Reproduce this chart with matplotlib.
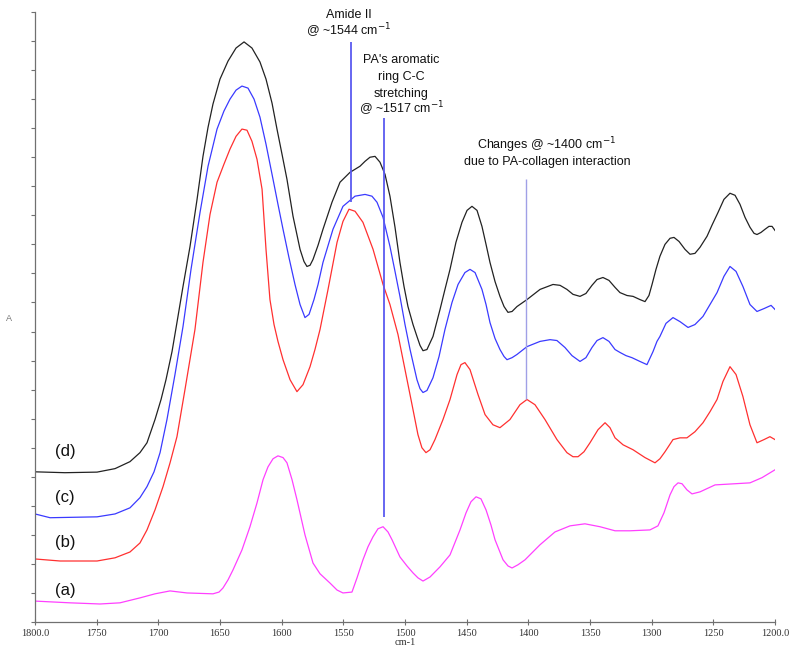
import matplotlib
matplotlib.use("Agg")
import matplotlib.pyplot as plt

# spectrum (d), black
wn_d = [1800.0, 1775.7, 1749.7, 1735.1, 1723.0, 1714.9, 1709.2, 1702.7, 1697.8, 1693.8,
        1688.9, 1684.9, 1680.0, 1674.3, 1668.6, 1663.8, 1659.7, 1655.7, 1650.0, 1643.5,
        1637.0, 1630.5, 1624.1, 1617.6, 1612.7, 1607.8, 1603.8, 1599.7, 1595.7, 1590.8,
        1585.1, 1581.9, 1579.5, 1577.0, 1574.6, 1570.5, 1566.5, 1559.2, 1552.7, 1544.6,
        1536.5, 1532.4, 1528.4, 1524.3, 1520.3, 1516.2, 1512.2, 1508.1, 1504.1, 1500.8,
        1497.6, 1493.5, 1490.3, 1487.8, 1485.4, 1482.2, 1477.3, 1471.6, 1467.6, 1463.5,
        1458.7, 1453.8, 1449.7, 1445.7, 1441.6, 1437.6, 1434.3, 1431.1, 1427.0, 1423.0,
        1419.7, 1416.5, 1413.2, 1409.2, 1401.1, 1390.5, 1380.0, 1374.3, 1368.7, 1363.8,
        1358.1, 1353.3, 1348.4, 1344.3, 1339.5, 1334.6, 1329.7, 1325.7, 1320.0, 1315.1,
        1309.5, 1305.4, 1302.2, 1299.7, 1296.5, 1293.3, 1289.2, 1285.1, 1281.9, 1277.8,
        1273.0, 1268.9, 1264.9, 1260.8, 1255.1, 1251.1, 1246.2, 1241.4, 1236.5, 1232.4,
        1228.4, 1224.3, 1220.3, 1217.0, 1214.6, 1211.4, 1208.1, 1204.9, 1202.4, 1200.0]
abs_d = [0.517, 0.514, 0.516, 0.528, 0.552, 0.583, 0.617, 0.697, 0.766, 0.834,
         0.931, 1.031, 1.155, 1.293, 1.455, 1.603, 1.703, 1.783, 1.869, 1.931,
         1.976, 1.997, 1.976, 1.928, 1.869, 1.786, 1.697, 1.610, 1.524, 1.397,
         1.283, 1.241, 1.224, 1.228, 1.248, 1.297, 1.352, 1.445, 1.514, 1.548,
         1.569, 1.586, 1.600, 1.603, 1.583, 1.541, 1.466, 1.359, 1.238, 1.155,
         1.086, 1.024, 0.983, 0.952, 0.934, 0.938, 0.983, 1.076, 1.145, 1.214,
         1.307, 1.376, 1.417, 1.431, 1.417, 1.362, 1.300, 1.238, 1.172, 1.121,
         1.086, 1.066, 1.069, 1.086, 1.110, 1.145, 1.162, 1.159, 1.145, 1.128,
         1.121, 1.131, 1.159, 1.179, 1.186, 1.176, 1.152, 1.134, 1.124, 1.121,
         1.110, 1.103, 1.124, 1.162, 1.214, 1.259, 1.300, 1.321, 1.324, 1.310,
         1.283, 1.266, 1.269, 1.290, 1.328, 1.366, 1.410, 1.455, 1.476, 1.469,
         1.438, 1.393, 1.359, 1.338, 1.334, 1.341, 1.352, 1.362, 1.362, 1.348]

# spectrum (c), blue
wn_c = [1800.0, 1787.8, 1749.7, 1735.1, 1723.0, 1714.9, 1709.2, 1703.5, 1698.6, 1693.0,
        1686.5, 1680.0, 1673.5, 1666.2, 1659.7, 1652.4, 1646.8, 1641.9, 1637.0, 1632.2,
        1627.3, 1622.4, 1617.6, 1612.7, 1607.0, 1603.0, 1598.9, 1594.1, 1589.2, 1585.1,
        1581.1, 1577.8, 1573.8, 1570.5, 1566.5, 1558.4, 1550.3, 1540.5, 1532.4, 1526.8,
        1522.7, 1517.8, 1512.2, 1508.1, 1504.1, 1500.0, 1495.9, 1490.3, 1487.8, 1485.4,
        1482.2, 1477.3, 1472.4, 1467.6, 1461.9, 1457.0, 1451.4, 1447.3, 1443.2, 1437.6,
        1434.3, 1431.1, 1427.0, 1423.0, 1419.7, 1417.3, 1413.2, 1409.2, 1401.1, 1390.5,
        1382.4, 1376.8, 1370.3, 1364.6, 1358.1, 1353.3, 1348.4, 1344.3, 1339.5, 1334.6,
        1329.7, 1325.7, 1320.8, 1316.0, 1309.5, 1303.8, 1298.9, 1295.7, 1293.3, 1288.4,
        1282.7, 1277.0, 1270.5, 1264.9, 1258.4, 1252.7, 1247.0, 1241.4, 1236.5, 1231.6,
        1226.0, 1220.3, 1214.6, 1208.9, 1203.2, 1200.0]
abs_c = [0.372, 0.359, 0.362, 0.372, 0.393, 0.428, 0.466, 0.517, 0.583, 0.697,
         0.852, 1.017, 1.214, 1.410, 1.569, 1.697, 1.759, 1.800, 1.831, 1.845,
         1.838, 1.800, 1.738, 1.645, 1.524, 1.438, 1.352, 1.255, 1.162, 1.093,
         1.048, 1.059, 1.110, 1.162, 1.238, 1.352, 1.431, 1.466, 1.472, 1.466,
         1.445, 1.393, 1.293, 1.207, 1.121, 1.024, 0.938, 0.834, 0.803, 0.790,
         0.797, 0.841, 0.914, 1.007, 1.100, 1.162, 1.203, 1.214, 1.203, 1.145,
         1.093, 1.031, 0.976, 0.938, 0.914, 0.903, 0.910, 0.921, 0.948, 0.966,
         0.972, 0.969, 0.945, 0.917, 0.897, 0.910, 0.945, 0.969, 0.979, 0.966,
         0.938, 0.928, 0.917, 0.910, 0.897, 0.886, 0.931, 0.966, 0.983, 1.028,
         1.048, 1.034, 1.014, 1.024, 1.052, 1.093, 1.134, 1.190, 1.224, 1.207,
         1.155, 1.093, 1.069, 1.079, 1.090, 1.076]

# spectrum (b), red
wn_b = [1800.0, 1779.7, 1749.7, 1735.1, 1723.0, 1714.9, 1709.2, 1702.7, 1696.2, 1690.5,
        1684.9, 1678.4, 1670.3, 1663.8, 1658.1, 1652.4, 1646.8, 1641.9, 1637.0, 1632.2,
        1628.1, 1624.1, 1620.0, 1615.9, 1612.7, 1609.5, 1606.2, 1603.0, 1598.9, 1593.2,
        1587.6, 1582.7, 1577.0, 1573.0, 1568.9, 1562.4, 1555.1, 1550.3, 1545.4, 1540.5,
        1534.1, 1525.9, 1517.8, 1512.2, 1505.7, 1500.0, 1494.3, 1489.5, 1486.3, 1483.0,
        1479.7, 1475.7, 1469.2, 1463.5, 1457.8, 1454.6, 1451.4, 1447.3, 1440.8, 1435.1,
        1428.7, 1423.0, 1414.9, 1406.8, 1401.1, 1394.6, 1386.5, 1376.8, 1368.7, 1363.8,
        1359.7, 1354.9, 1350.0, 1343.5, 1337.8, 1333.8, 1329.7, 1323.2, 1315.1, 1305.4,
        1297.3, 1293.3, 1289.2, 1282.7, 1277.0, 1271.4, 1264.9, 1258.4, 1252.7, 1247.0,
        1242.2, 1236.5, 1231.6, 1226.0, 1220.3, 1214.6, 1208.9, 1204.1, 1200.0]
abs_b = [0.217, 0.210, 0.210, 0.221, 0.241, 0.272, 0.317, 0.386, 0.466, 0.548,
         0.638, 0.800, 1.007, 1.238, 1.403, 1.514, 1.576, 1.628, 1.672, 1.697,
         1.693, 1.655, 1.593, 1.490, 1.283, 1.110, 1.024, 0.966, 0.903, 0.834,
         0.793, 0.817, 0.879, 0.938, 1.007, 1.145, 1.307, 1.379, 1.421, 1.414,
         1.376, 1.283, 1.162, 1.093, 0.990, 0.869, 0.748, 0.645, 0.600, 0.583,
         0.593, 0.628, 0.697, 0.766, 0.852, 0.886, 0.893, 0.869, 0.783, 0.714,
         0.679, 0.669, 0.697, 0.748, 0.766, 0.748, 0.697, 0.628, 0.583, 0.569,
         0.569, 0.586, 0.617, 0.662, 0.686, 0.669, 0.634, 0.610, 0.593, 0.566,
         0.548, 0.562, 0.586, 0.628, 0.634, 0.634, 0.655, 0.686, 0.724, 0.766,
         0.828, 0.879, 0.852, 0.776, 0.679, 0.617, 0.628, 0.638, 0.628]

# spectrum (a), magenta
wn_a = [1800.0, 1771.6, 1747.3, 1731.1, 1714.9, 1702.7, 1690.5, 1676.8, 1655.7, 1650.8,
        1647.6, 1643.5, 1639.5, 1632.2, 1625.7, 1620.0, 1615.1, 1611.1, 1607.0, 1603.0,
        1598.9, 1595.7, 1591.6, 1587.6, 1581.1, 1574.6, 1568.9, 1560.8, 1555.1, 1550.3,
        1543.0, 1538.9, 1534.1, 1530.0, 1526.0, 1521.9, 1517.8, 1513.8, 1510.5, 1504.1,
        1498.4, 1493.5, 1489.5, 1485.4, 1479.7, 1471.6, 1463.5, 1455.4, 1450.5, 1446.5,
        1442.4, 1438.4, 1434.3, 1430.3, 1427.0, 1420.5, 1416.5, 1413.2, 1408.4, 1402.7,
        1390.5, 1378.4, 1366.2, 1354.1, 1341.9, 1329.7, 1317.6, 1301.4, 1294.9, 1290.0,
        1285.1, 1281.9, 1278.6, 1275.4, 1271.4, 1267.3, 1260.8, 1248.6, 1232.4, 1220.3,
        1210.5, 1200.0]
abs_a = [0.072, 0.066, 0.062, 0.066, 0.083, 0.097, 0.107, 0.100, 0.097, 0.103,
         0.117, 0.145, 0.179, 0.248, 0.328, 0.410, 0.490, 0.534, 0.562, 0.572,
         0.566, 0.548, 0.490, 0.421, 0.300, 0.203, 0.166, 0.134, 0.110, 0.100,
         0.103, 0.152, 0.214, 0.259, 0.293, 0.321, 0.328, 0.310, 0.283, 0.224,
         0.193, 0.169, 0.152, 0.141, 0.155, 0.190, 0.231, 0.317, 0.376, 0.414,
         0.431, 0.424, 0.386, 0.334, 0.283, 0.214, 0.193, 0.186, 0.197, 0.214,
         0.266, 0.310, 0.331, 0.338, 0.328, 0.314, 0.314, 0.317, 0.331, 0.376,
         0.438, 0.466, 0.479, 0.476, 0.455, 0.441, 0.448, 0.472, 0.476, 0.479,
         0.497, 0.524]

curve_labels = ["(d)", "(c)", "(b)", "(a)"]
label_levels = [0.586, 0.428, 0.272, 0.110]

# annotation markers: wavenumber, top, bottom
marker_wn = [1544, 1517, 1402]
marker_top = [1.997, 1.734, 1.524]
marker_bottom = [1.445, 0.362, 0.766]

# annotation text blocks: lines, centre wavenumber, baseline of each line
amide_lines = ["Amide II", "@ ~1544 cm$^{-1}$"]
amide_wn = 1545.5
amide_base = [2.081, 2.020]
ring_lines = ["PA's aromatic", "ring C-C", "stretching", "@ ~1517 cm$^{-1}$"]
ring_wn = 1503.0
ring_base = [1.924, 1.866, 1.809, 1.750]
change_lines = ["Changes @ ~1400 cm$^{-1}$", "due to PA-collagen interaction"]
change_wn = 1385.0
change_base = [1.626, 1.575]

xticks = list(range(1800, 1199, -50))
xticklabels = ["1800.0"] + [str(v) for v in xticks[1:-1]] + ["1200.0"]

fig = plt.figure(figsize=(8.0, 6.53), dpi=100)
ax = fig.add_axes([35 / 800, 31 / 653, 740 / 800, 610 / 653])

ax.plot(wn_d, abs_d, color="#222222", lw=0.9)
ax.plot(wn_c, abs_c, color="#3a3aff", lw=0.9)
ax.plot(wn_b, abs_b, color="#ff3030", lw=0.9)
ax.plot(wn_a, abs_a, color="#ff40ff", lw=0.9)

line_colors = ["#5a5af0", "#5a5af0", "#a0a0e6"]
line_widths = [1.3, 1.3, 1.0]
for w, top, bot, c, lw in zip(marker_wn, marker_top, marker_bottom, line_colors, line_widths):
    ax.plot([w, w], [bot, top], color=c, lw=lw, solid_capstyle="butt")

txt = dict(family=["Liberation Sans", "DejaVu Sans"], fontsize=9, color="#111111",
           ha="center", va="baseline", clip_on=False)
for lines, x, bases in [(amide_lines, amide_wn, amide_base),
                        (ring_lines, ring_wn, ring_base),
                        (change_lines, change_wn, change_base)]:
    for line, y in zip(lines, bases):
        ax.text(x, y, line, **txt)

for lab, lev in zip(curve_labels, label_levels):
    ax.text(1775.7, lev, lab, family=["Liberation Sans", "DejaVu Sans"], fontsize=12,
            color="#111111", ha="center", va="center")

ax.set_xlim(1800, 1200)
ax.set_ylim(0, 2.1)
ax.set_xticks(xticks)
ax.set_xticklabels(xticklabels, family=["Liberation Serif", "DejaVu Serif"], fontsize=7.5,
                   color="#333333")
ax.set_yticks([i / 10 for i in range(22)])
ax.set_yticklabels([])
ax.tick_params(axis="x", direction="inout", length=4, width=0.8, color="#707070", pad=3)
ax.tick_params(axis="y", direction="out", length=3, width=0.8, color="#707070")

for side in ("top", "right"):
    ax.spines[side].set_visible(False)
for side in ("left", "bottom"):
    ax.spines[side].set_color("#707070")
    ax.spines[side].set_linewidth(0.9)

ax.set_xlabel("cm-1", family=["Liberation Serif", "DejaVu Serif"], fontsize=7.5,
              color="#333333", labelpad=0)
ax.set_ylabel("A", family=["Liberation Sans", "DejaVu Sans"], fontsize=6.5,
              color="#777777", rotation=0)
ax.yaxis.set_label_coords(-0.035, 0.49)

fig.savefig("out.png", dpi=100)
plt.close(fig)
